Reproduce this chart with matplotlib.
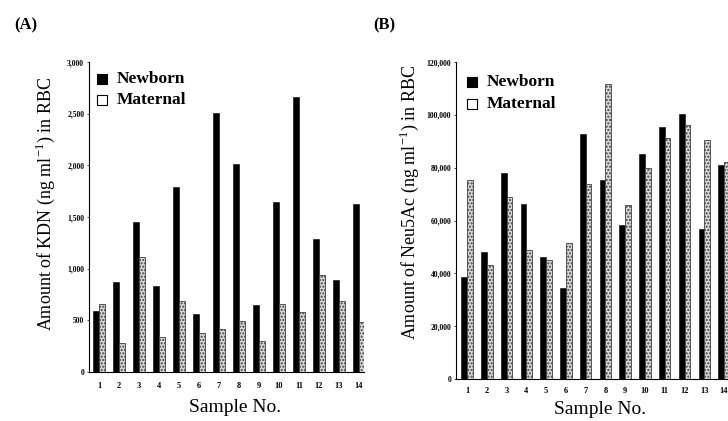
import matplotlib
matplotlib.use("Agg")
import matplotlib.pyplot as plt
import numpy as np
from matplotlib.patches import Rectangle

samples = list(range(1, 15))
kdn_newborn = [590, 870, 1450, 830, 1790, 560, 2510, 2010, 650, 1650, 2660, 1290, 890, 1630]
kdn_maternal = [660, 280, 1110, 340, 690, 380, 420, 490, 300, 660, 580, 940, 690, 480]
neu_newborn = [38500, 48000, 77800, 66300, 46300, 34300, 92800, 75500, 58300, 85000, 95500, 100300, 56800, 81000]
neu_maternal = [75500, 43000, 68800, 49000, 45000, 51300, 74000, 111500, 65800, 80000, 91200, 96300, 90500, 82300]
kdn_ticks = [0, 500, 1000, 1500, 2000, 2500, 3000]
neu_ticks = [0, 20000, 40000, 60000, 80000, 100000, 120000]

W, H = 728, 421
fig = plt.figure(figsize=(W / 100, H / 100), dpi=100)
fig.patch.set_facecolor("white")
serif = ["Liberation Serif", "DejaVu Serif"]

def make_axes(rect, newborn, maternal, ticks, ymax, xlim, pad):
    ax = fig.add_axes(rect)
    x = np.array(samples, dtype=float)
    w = 0.29
    ax.bar(x - 0.145, newborn, width=w, color="black", edgecolor="black", linewidth=0.4)
    ax.bar(x + 0.145, maternal, width=w, color="#d6d6d6", edgecolor="#404040",
           linewidth=0.6, hatch=".....")
    ax.set_xlim(*xlim)
    ax.set_ylim(0, ymax)
    for s in ["top", "right"]:
        ax.spines[s].set_visible(False)
    ax.spines["left"].set_linewidth(0.8)
    ax.spines["bottom"].set_linewidth(0.8)
    ax.set_xticks(x)
    ax.set_xticklabels([str(s) for s in samples], fontfamily=serif, fontweight="bold", fontsize=6)
    ax.tick_params(axis="x", length=0, pad=pad)
    ax.set_yticks(ticks)
    ax.set_yticklabels([f"{t:,}" for t in ticks], fontfamily=serif, fontweight="bold", fontsize=5.5)
    ax.tick_params(axis="y", length=1.5, width=0.5, pad=2)
    return ax

axA = make_axes([89 / W, (H - 372) / H, (364 - 89) / W, (372 - 62) / H],
                kdn_newborn, kdn_maternal, kdn_ticks, 3000, (0.5, 14.25), 7)
axB = make_axes([456 / W, (H - 379) / H, (728 - 456) / W, (379 - 62) / H],
                neu_newborn, neu_maternal, neu_ticks, 120000, (0.44, 14.2), 6)

def ftext(x, y, s, **kw):
    fig.text(x / W, 1 - y / H, s, fontfamily=serif, **kw)

ftext(45, 204, r"Amount of KDN (ng ml$^{\mathregular{-1}}$) in RBC", fontsize=13,
      rotation=90, ha="center", va="center")
ftext(409, 202, r"Amount of Neu5Ac (ng ml$^{\mathregular{-1}}$) in RBC", fontsize=13,
      rotation=90, ha="center", va="center")
ftext(235, 407, "Sample No.", fontsize=14, ha="center", va="center")
ftext(600, 409, "Sample No.", fontsize=14, ha="center", va="center")

def legend(x0, y0, y1):
    for y, fc, lab in [(y0, "black", "Newborn"), (y1, "white", "Maternal")]:
        fig.patches.append(Rectangle((x0 / W, 1 - (y + 5) / H), 10 / W, 10 / H,
                                     transform=fig.transFigure, facecolor=fc,
                                     edgecolor="black", linewidth=0.8))
        ftext(x0 + 20, y, lab, fontweight="bold", fontsize=12.5, va="center", ha="left")

legend(97, 79, 100)
legend(467, 82, 104)

ftext(14, 25, "(A)", fontweight="bold", fontsize=12, va="center")
ftext(373, 25, "(B)", fontweight="bold", fontsize=12, va="center")

fig.savefig("out.png", dpi=100, facecolor="white")
